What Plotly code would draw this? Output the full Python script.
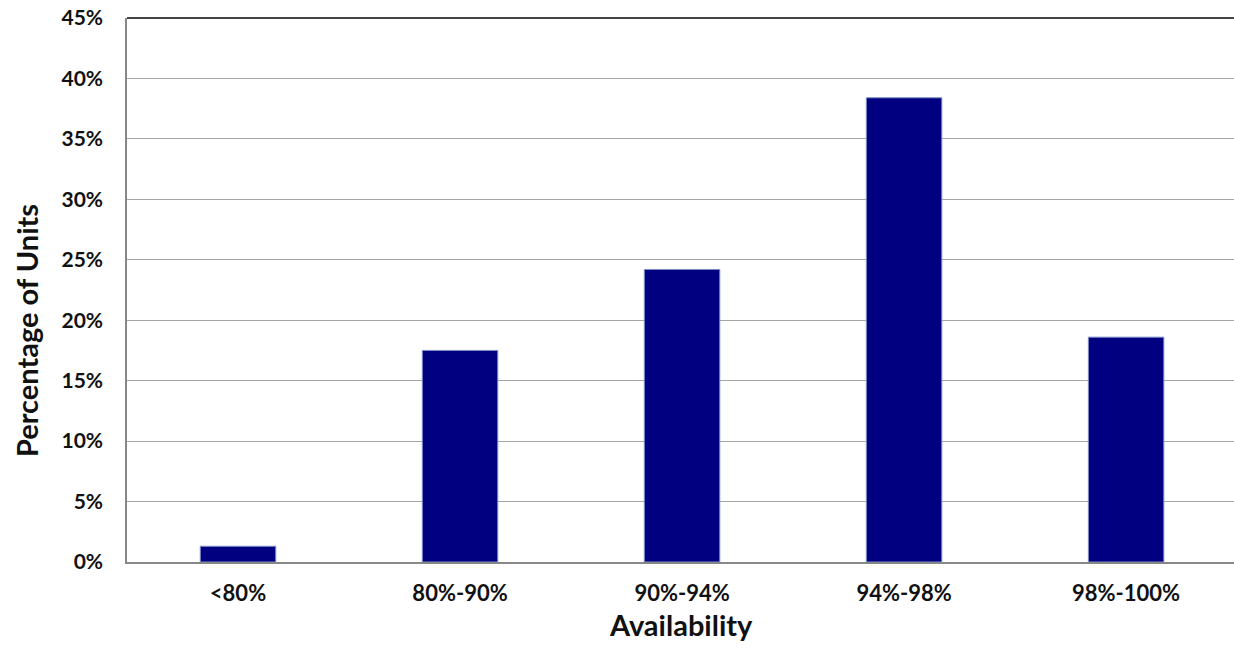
import plotly.graph_objects as go

categories = ["<80%", "80%-90%", "90%-94%", "94%-98%", "98%-100%"]
values = [1.3, 17.5, 24.2, 38.4, 18.6]
y_ticks = [0, 5, 10, 15, 20, 25, 30, 35, 40, 45]
y_ticklabels = [f"{v}%" for v in y_ticks]

fig = go.Figure(go.Bar(
    x=categories, y=values,
    marker=dict(color="#000080", line=dict(color="#7f8fc8", width=1)),
    width=0.34,
))

font_family = "Lato, Carlito, Arial, sans-serif"
fig.update_layout(
    width=1234, height=649,
    margin=dict(l=127, r=0, t=18, b=87, autoexpand=False),
    paper_bgcolor="white", plot_bgcolor="white",
    showlegend=False,
    font=dict(family=font_family, color="#111111"),
    xaxis=dict(
        tickfont=dict(size=22, weight="bold"),
        range=[-0.5, 4.486], automargin=False,
        showline=True, linecolor="#888888", linewidth=1.5,
        ticks="", showgrid=False, ticklabelstandoff=11,
    ),
    yaxis=dict(
        range=[0, 45], tickvals=y_ticks, ticktext=y_ticklabels,
        tickfont=dict(size=21, weight="bold"), automargin=False,
        showline=True, linecolor="#888888", linewidth=1.5,
        gridcolor="#a6a6a6", gridwidth=1.3,
        ticks="", zeroline=False, ticklabelstandoff=18,
        ticklabeloverflow="allow",
    ),
)
fig.add_annotation(
    text="Percentage of Units", textangle=-90,
    xref="paper", yref="paper", x=-0.0912, y=0.4246,
    xanchor="center", yanchor="middle", showarrow=False,
    font=dict(size=29, weight="bold", family=font_family, color="#111111"),
)
fig.add_annotation(
    text="Availability",
    xref="paper", yref="paper", x=0.5, y=-0.114,
    xanchor="center", yanchor="middle", showarrow=False,
    font=dict(size=29, weight="bold", family=font_family, color="#111111"),
)
fig.add_shape(type="line", xref="paper", yref="paper", x0=0, x1=1, y0=1, y1=1,
              line=dict(color="#444444", width=2))

fig.write_html(
    "out.html",
    config={"displayModeBar": False},
    post_script="document.body.style.margin='0';document.body.style.overflow='hidden';",
)
